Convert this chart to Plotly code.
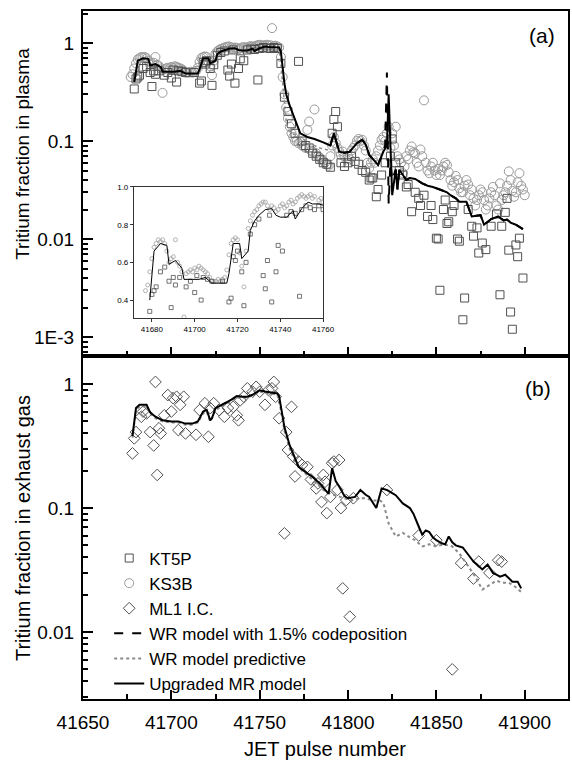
import plotly.graph_objects as go

# ---------------- DATA ----------------
# Panel (a): KS3B (circles)
ks3b_x = [41677, 41678, 41679, 41680, 41681, 41682, 41683, 41684, 41685, 41686,
          41687, 41688, 41689, 41690, 41691, 41692, 41693, 41694, 41695, 41696,
          41697, 41698, 41699, 41700, 41701, 41702, 41703, 41704, 41705, 41706,
          41707, 41708, 41709, 41710, 41711, 41712, 41713, 41714, 41715, 41716,
          41717, 41718, 41719, 41720, 41721, 41722, 41723, 41724, 41725, 41726,
          41727, 41728, 41729, 41730, 41731, 41732, 41733, 41734, 41735, 41736,
          41737, 41738, 41739, 41740, 41741, 41742, 41743, 41744, 41745, 41746,
          41747, 41748, 41749, 41750, 41751, 41752, 41753, 41754, 41755, 41756,
          41757, 41758, 41759, 41760, 41761, 41762,
          41763, 41764, 41765, 41766, 41767, 41768, 41769, 41770, 41771, 41772,
          41773, 41774, 41775, 41776, 41777, 41778, 41779, 41780, 41781, 41782,
          41783, 41784, 41785, 41786, 41787, 41788, 41789, 41790, 41791, 41792,
          41793, 41794, 41795, 41796, 41797, 41798, 41799, 41800, 41801, 41802,
          41803, 41804, 41805, 41806, 41807, 41808, 41809, 41810, 41811, 41812,
          41813, 41814, 41815, 41816, 41817, 41818, 41819, 41820, 41821, 41822,
          41823, 41824, 41825, 41826, 41827, 41828, 41829, 41830, 41831, 41832,
          41833, 41834, 41835, 41836, 41837, 41838, 41839, 41840, 41841, 41842,
          41843, 41844, 41845, 41846, 41847, 41848, 41849, 41850, 41851, 41852,
          41853, 41854, 41855, 41856, 41857, 41858, 41859, 41860, 41861, 41862,
          41863, 41864, 41865, 41866, 41867, 41868, 41869, 41870, 41871, 41872,
          41873, 41874, 41875, 41876, 41877, 41878, 41879, 41880, 41881, 41882,
          41883, 41884, 41885, 41886, 41887, 41888, 41889, 41890, 41891, 41892,
          41893, 41894, 41895, 41896, 41897, 41898, 41899, 41900]
ks3b_y = [0.45, 0.48, 0.55, 0.62, 0.68, 0.70, 0.72, 0.71, 0.72, 0.70,
          0.66, 0.60, 0.62, 0.63, 0.72, 0.60, 0.58, 0.55, 0.31, 0.54,
          0.55, 0.56, 0.55, 0.57, 0.56, 0.58, 0.57, 0.56, 0.55, 0.54,
          0.52, 0.50, 0.50, 0.50, 0.51, 0.50, 0.51, 0.52, 0.56, 0.64,
          0.70, 0.72, 0.73, 0.72, 0.65, 0.58, 0.47, 0.66, 0.78, 0.82,
          0.85, 0.87, 0.88, 0.90, 0.91, 0.92, 0.92, 0.90, 0.88, 0.90,
          0.89, 0.87, 0.88, 0.90, 0.91, 0.89, 0.90, 0.92, 0.93, 0.91,
          0.92, 0.94, 0.95, 0.96, 0.95, 0.94, 0.95, 0.96, 0.94, 0.95,
          1.42, 0.93, 0.94, 0.92, 0.90, 0.72,
          0.45, 0.30, 0.22, 0.17, 0.14, 0.12, 0.11, 0.10, 0.10, 0.095,
          0.098, 0.09, 0.088, 0.085, 0.13, 0.158, 0.08, 0.078, 0.21, 0.075,
          0.07, 0.068, 0.065, 0.063, 0.06, 0.058, 0.056, 0.07, 0.09, 0.11,
          0.095, 0.085, 0.078, 0.072, 0.078, 0.07, 0.065, 0.07, 0.065, 0.08,
          0.085, 0.09, 0.10, 0.105, 0.10, 0.103, 0.09, 0.08, 0.06, 0.053,
          0.06, 0.065, 0.06, 0.07, 0.08, 0.09, 0.103, 0.11, 0.10, 0.12,
          0.14, 0.085, 0.12, 0.09, 0.14, 0.07, 0.065, 0.06, 0.047, 0.055,
          0.07, 0.065, 0.08, 0.088, 0.077, 0.075, 0.06, 0.055, 0.082, 0.07,
          0.26, 0.06, 0.05, 0.047, 0.055, 0.06, 0.05, 0.045, 0.052, 0.045,
          0.05, 0.055, 0.06, 0.057, 0.048, 0.04, 0.035, 0.038, 0.044, 0.04,
          0.033, 0.03, 0.03, 0.035, 0.04, 0.036, 0.028, 0.032, 0.026, 0.022,
          0.025, 0.028, 0.032, 0.03, 0.025, 0.02, 0.022, 0.026, 0.03, 0.034,
          0.028, 0.022, 0.02, 0.037, 0.025, 0.028, 0.03, 0.035, 0.049, 0.04,
          0.031, 0.027, 0.03, 0.038, 0.047, 0.035, 0.032, 0.028]

# Panel (a): KT5P (squares)
kt5p_x = [41679, 41680, 41681, 41682, 41684, 41686, 41688, 41689, 41690, 41691,
          41693, 41696, 41698, 41700, 41701, 41703, 41704, 41706, 41708, 41713,
          41716, 41717, 41718, 41719, 41720, 41722, 41723, 41724, 41726, 41728,
          41730, 41732, 41733, 41734, 41735, 41736, 41738, 41739, 41741, 41743,
          41745, 41747, 41749, 41750, 41752, 41754, 41756, 41758, 41760, 41762,
          41764, 41766, 41768, 41770, 41772, 41774, 41776, 41778, 41780, 41782,
          41784, 41786, 41788, 41790, 41791, 41792, 41793, 41794, 41796, 41798,
          41800, 41802, 41804, 41806, 41808, 41810, 41812, 41813, 41814, 41816,
          41817, 41819, 41821, 41824, 41825, 41827, 41829, 41831, 41833, 41834,
          41836, 41838, 41840, 41841, 41843, 41845, 41847, 41848, 41850, 41851,
          41852, 41854, 41855, 41856, 41857, 41859, 41860, 41862, 41863, 41865,
          41866, 41868, 41870, 41871, 41873, 41874, 41876, 41878, 41881, 41884,
          41886, 41887, 41889, 41890, 41891, 41892, 41893, 41895, 41896, 41897,
          41899]
kt5p_y = [0.34, 0.43, 0.45, 0.47, 0.55, 0.575, 0.50, 0.36, 0.52, 0.48,
          0.52, 0.47, 0.50, 0.44, 0.53, 0.40, 0.52, 0.51, 0.50, 0.50,
          0.39, 0.41, 0.63, 0.61, 0.66, 0.55, 0.37, 0.60, 0.75, 0.80,
          0.83, 0.53, 0.46, 0.61, 0.85, 0.39, 0.55, 0.69, 0.66, 0.85,
          0.87, 0.86, 0.42, 0.88, 0.90, 0.89, 0.88, 0.90, 0.88, 0.62,
          0.28, 0.20, 0.15, 0.12, 0.65, 0.10, 0.09, 0.085, 0.075, 0.07,
          0.065, 0.06, 0.058, 0.054, 0.12, 0.166, 0.20, 0.14, 0.06, 0.055,
          0.06, 0.07, 0.062, 0.058, 0.05, 0.048, 0.04, 0.042, 0.042, 0.027,
          0.032, 0.045, 0.06, 0.07, 0.105, 0.06, 0.05, 0.045, 0.034, 0.036,
          0.019, 0.03, 0.026, 0.022, 0.028, 0.017, 0.022, 0.0158, 0.0102, 0.01,
          0.003, 0.02, 0.025, 0.0144, 0.015, 0.019, 0.022, 0.01, 0.0095, 0.0015,
          0.0025, 0.02, 0.0135, 0.0107, 0.013, 0.0072, 0.0091, 0.0078, 0.0135, 0.018,
          0.0027, 0.0135, 0.0187, 0.026, 0.0077, 0.0018, 0.0012, 0.0087, 0.0066, 0.0102,
          0.004]

# Panel (a): Upgraded MR model
mr_a_x = [41679, 41681, 41684, 41687, 41688, 41691, 41694, 41695, 41699, 41702,
          41705, 41708, 41712, 41715, 41716, 41718, 41721, 41722, 41725, 41726,
          41728, 41730, 41733, 41736, 41738, 41740, 41743, 41746, 41747, 41750,
          41753, 41755, 41758, 41761, 41762, 41763, 41764, 41765, 41767, 41770,
          41773, 41777, 41781, 41786, 41790, 41792, 41795, 41798, 41801, 41805,
          41808, 41810, 41812, 41817, 41820, 41822, 41823, 41825, 41827, 41828,
          41829, 41833, 41835, 41838, 41842, 41845, 41848, 41852, 41856, 41858,
          41861, 41863, 41867, 41870, 41875, 41877, 41881, 41885, 41888, 41890,
          41892, 41895, 41899]
mr_a_y = [0.40, 0.66, 0.70, 0.69, 0.59, 0.61, 0.57, 0.51, 0.51, 0.51,
          0.52, 0.49, 0.49, 0.49, 0.54, 0.70, 0.70, 0.62, 0.66, 0.77,
          0.82, 0.85, 0.88, 0.885, 0.85, 0.84, 0.84, 0.875, 0.83, 0.885,
          0.92, 0.91, 0.91, 0.90, 0.81, 0.55, 0.39, 0.30, 0.23, 0.165,
          0.12, 0.11, 0.105, 0.097, 0.09, 0.12, 0.078, 0.076, 0.078, 0.095,
          0.103, 0.092, 0.072, 0.057, 0.078, 0.09, 0.30, 0.028, 0.051, 0.032,
          0.051, 0.04, 0.042, 0.041, 0.037, 0.035, 0.034, 0.032, 0.03, 0.028,
          0.026, 0.024, 0.024, 0.017, 0.0175, 0.014, 0.016, 0.017, 0.0155, 0.0158,
          0.0147, 0.014, 0.0126]

# Panel (a): WR model with 1.5% codeposition
wr15_a_x = [41790, 41792, 41795, 41798, 41801, 41805, 41808, 41810, 41812, 41817,
            41820, 41821, 41822, 41823, 41824, 41825, 41827, 41828, 41829, 41833,
            41835, 41838, 41842, 41845, 41848, 41852, 41856, 41858, 41861, 41863,
            41867, 41870, 41875, 41877, 41881, 41885, 41888, 41890, 41892, 41895,
            41899]
wr15_a_y = [0.09, 0.12, 0.078, 0.076, 0.078, 0.095, 0.103, 0.092, 0.072, 0.057,
            0.078, 0.09, 0.50, 0.023, 0.06, 0.04, 0.051, 0.032, 0.051, 0.04,
            0.042, 0.041, 0.037, 0.035, 0.034, 0.032, 0.03, 0.028, 0.026, 0.024,
            0.024, 0.017, 0.0175, 0.014, 0.016, 0.017, 0.0155, 0.0158, 0.0147, 0.014,
            0.0126]

# Panel (a): WR model predictive
wrp_a_x = [41679, 41681, 41684, 41687, 41688, 41691, 41694, 41695, 41702, 41705,
           41708, 41715, 41716, 41718, 41721, 41722, 41725, 41726, 41730, 41733,
           41736, 41738, 41743, 41746, 41750, 41753, 41758, 41761, 41762, 41763,
           41764, 41765, 41766, 41768, 41773, 41778, 41784, 41790]
wrp_a_y = [0.40, 0.64, 0.68, 0.67, 0.58, 0.60, 0.56, 0.50, 0.50, 0.51,
           0.48, 0.48, 0.53, 0.68, 0.69, 0.61, 0.65, 0.75, 0.84, 0.87,
           0.87, 0.84, 0.83, 0.86, 0.87, 0.90, 0.89, 0.88, 0.60, 0.37,
           0.22, 0.16, 0.13, 0.12, 0.11, 0.095, 0.085, 0.08]

# Panel (b): ML1 I.C. (diamonds)
ml1_x = [41678, 41679, 41680, 41683, 41684, 41686, 41688, 41690, 41691, 41692,
         41693, 41694, 41696, 41698, 41700, 41701, 41703, 41704, 41705, 41707,
         41708, 41714, 41716, 41719, 41721, 41722, 41724, 41727, 41730, 41732,
         41735, 41737, 41738, 41739, 41741, 41743, 41746, 41748, 41750, 41753,
         41755, 41757, 41758, 41759, 41761, 41764, 41765, 41766, 41768, 41769,
         41770, 41772, 41774, 41777, 41779, 41782, 41783, 41785, 41786, 41787,
         41788, 41790, 41791, 41792, 41794, 41795, 41796, 41797, 41799, 41801,
         41803, 41822, 41840, 41850, 41859, 41864, 41871, 41874, 41880, 41885,
         41887]
ml1_y = [0.276, 0.365, 0.41, 0.545, 0.60, 0.58, 0.41, 0.32, 1.04, 0.185,
         0.44, 0.40, 0.56, 0.815, 0.60, 0.77, 0.79, 0.425, 0.68, 0.79,
         0.40, 0.39, 0.617, 0.70, 0.376, 0.64, 0.70, 0.617, 0.545, 0.64,
         0.655, 0.56, 0.51, 0.74, 0.79, 0.923, 0.867, 0.95, 0.867, 0.68,
         0.895, 0.923, 1.04, 0.79, 0.53, 0.0625, 0.41, 0.294, 0.655, 0.26,
         0.18, 0.237, 0.223, 0.215, 0.17, 0.144, 0.158, 0.112, 0.185, 0.163,
         0.091, 0.123, 0.23, 0.237, 0.14, 0.244, 0.10, 0.0225, 0.116, 0.0133,
         0.12, 0.14, 0.06, 0.055, 0.005, 0.036, 0.027, 0.037, 0.03, 0.038,
         0.037]

# Panel (b): Upgraded MR model
mr_b_x = [41678, 41679, 41680, 41682, 41686, 41688, 41691, 41695, 41700, 41704,
          41708, 41712, 41715, 41718, 41720, 41722, 41723, 41725, 41728, 41731,
          41734, 41737, 41740, 41743, 41746, 41750, 41753, 41756, 41760, 41761,
          41762, 41764, 41767, 41769, 41772, 41776, 41780, 41784, 41788, 41789,
          41791, 41793, 41795, 41798, 41800, 41804, 41807, 41810, 41812, 41814,
          41816, 41819, 41822, 41825, 41827, 41831, 41833, 41835, 41837, 41838,
          41840, 41842, 41844, 41846, 41848, 41850, 41853, 41855, 41857, 41859,
          41861, 41863, 41865, 41867, 41869, 41871, 41873, 41876, 41879, 41882,
          41884, 41886, 41889, 41891, 41893, 41896, 41898]
mr_b_y = [0.38, 0.52, 0.64, 0.68, 0.68, 0.59, 0.545, 0.51, 0.50, 0.50,
          0.48, 0.48, 0.50, 0.60, 0.62, 0.51, 0.53, 0.64, 0.67, 0.71,
          0.75, 0.80, 0.79, 0.79, 0.82, 0.89, 0.87, 0.86, 0.84, 0.80,
          0.66, 0.45, 0.32, 0.275, 0.215, 0.195, 0.178, 0.158, 0.135, 0.13,
          0.21, 0.165, 0.149, 0.125, 0.12, 0.123, 0.14, 0.128, 0.123, 0.112,
          0.10, 0.144, 0.14, 0.132, 0.127, 0.109, 0.104, 0.10, 0.09, 0.084,
          0.071, 0.061, 0.066, 0.064, 0.058, 0.055, 0.052, 0.051, 0.059, 0.053,
          0.050, 0.049, 0.048, 0.044, 0.040, 0.037, 0.035, 0.032, 0.035, 0.030,
          0.029, 0.028, 0.029, 0.027, 0.0255, 0.0255, 0.0225]

# Panel (b): WR model predictive
wrp_b_x = [41678, 41680, 41682, 41686, 41688, 41691, 41695, 41700, 41704, 41708,
           41712, 41715, 41718, 41720, 41722, 41725, 41728, 41731, 41734, 41737,
           41740, 41743, 41746, 41750, 41753, 41756, 41760, 41762, 41764, 41767,
           41770, 41774, 41778, 41782, 41786, 41790, 41794, 41798, 41802, 41806,
           41810, 41814, 41818, 41820, 41823, 41827, 41831, 41835, 41838, 41842,
           41846, 41850, 41854, 41859, 41863, 41868, 41872, 41876, 41880, 41884,
           41887, 41891, 41895, 41898]
wrp_b_y = [0.37, 0.62, 0.66, 0.66, 0.58, 0.53, 0.50, 0.49, 0.49, 0.47,
           0.47, 0.49, 0.58, 0.60, 0.50, 0.62, 0.65, 0.69, 0.73, 0.78,
           0.77, 0.78, 0.81, 0.87, 0.85, 0.84, 0.82, 0.62, 0.42, 0.30,
           0.24, 0.20, 0.18, 0.16, 0.14, 0.13, 0.125, 0.12, 0.115, 0.12,
           0.12, 0.115, 0.115, 0.11, 0.075, 0.059, 0.063, 0.058, 0.055, 0.049,
           0.051, 0.049, 0.051, 0.049, 0.043, 0.034, 0.028, 0.022, 0.024, 0.026,
           0.025, 0.025, 0.023, 0.021]

x_ticks = [41650, 41700, 41750, 41800, 41850, 41900]
x_ticktext = ["41650", "41700", "41750", "41800", "41850", "41900"]
ya_ticks = [0.001, 0.01, 0.1, 1]
ya_text = ["1E-3", "0.01", "0.1", "1"]
yb_ticks = [0.01, 0.1, 1]
yb_text = ["0.01", "0.1", "1"]
inset_x_ticks = [41680, 41700, 41720, 41740, 41760]
inset_x_text = ["41680", "41700", "41720", "41740", "41760"]
inset_y_ticks = [0.4, 0.6, 0.8, 1.0]
inset_y_text = ["0.4", "0.6", "0.8", "1.0"]

# ---------------- STYLE ----------------
FONT = "Liberation Sans, Arial, Helvetica, sans-serif"
C_SQ = "#505050"
C_CI = "#9a9a9a"
C_DI = "#505050"
C_PRED = "#8a8a8a"

minor_a = [k * 10.0 ** e for e in range(-4, 1) for k in range(2, 10)]

fig = go.Figure()

# Top panel (x2, y2): markers first, then model lines
fig.add_trace(go.Scatter(x=ks3b_x, y=ks3b_y, mode="markers", name="KS3B",
                         marker=dict(symbol="circle-open", size=9, color=C_CI, line=dict(width=1)),
                         xaxis="x2", yaxis="y2", legendrank=2))
fig.add_trace(go.Scatter(x=kt5p_x, y=kt5p_y, mode="markers", name="KT5P",
                         marker=dict(symbol="square-open", size=8, color=C_SQ, line=dict(width=1)),
                         xaxis="x2", yaxis="y2", legendrank=1))
fig.add_trace(go.Scatter(x=wrp_a_x, y=wrp_a_y, mode="lines", showlegend=False,
                         line=dict(color=C_PRED, width=1.5, dash="dot"),
                         xaxis="x2", yaxis="y2"))
fig.add_trace(go.Scatter(x=wr15_a_x, y=wr15_a_y, mode="lines",
                         name="WR model with 1.5% codeposition",
                         line=dict(color="black", width=2, dash="dash"),
                         xaxis="x2", yaxis="y2", legendrank=4))
fig.add_trace(go.Scatter(x=mr_a_x, y=mr_a_y, mode="lines", showlegend=False,
                         line=dict(color="black", width=2),
                         xaxis="x2", yaxis="y2"))

# Bottom panel (x, y)
fig.add_trace(go.Scatter(x=ml1_x, y=ml1_y, mode="markers", name="ML1 I.C.",
                         marker=dict(symbol="diamond-open", size=9, color=C_DI, line=dict(width=1)),
                         xaxis="x", yaxis="y", legendrank=3))
fig.add_trace(go.Scatter(x=wrp_b_x, y=wrp_b_y, mode="lines", name="WR model predictive",
                         line=dict(color=C_PRED, width=2, dash="dot"),
                         xaxis="x", yaxis="y", legendrank=5))
fig.add_trace(go.Scatter(x=mr_b_x, y=mr_b_y, mode="lines", name="Upgraded MR model",
                         line=dict(color="black", width=2),
                         xaxis="x", yaxis="y", legendrank=6))

# Inset (x3, y3)
fig.add_trace(go.Scatter(x=ks3b_x, y=ks3b_y, mode="markers", showlegend=False,
                         marker=dict(symbol="circle-open", size=4, color="#a0a0a0", line=dict(width=0.8)),
                         xaxis="x3", yaxis="y3"))
fig.add_trace(go.Scatter(x=kt5p_x, y=kt5p_y, mode="markers", showlegend=False,
                         marker=dict(symbol="square-open", size=4, color=C_SQ, line=dict(width=0.8)),
                         xaxis="x3", yaxis="y3"))
fig.add_trace(go.Scatter(x=mr_a_x, y=mr_a_y, mode="lines", showlegend=False,
                         line=dict(color="black", width=1),
                         xaxis="x3", yaxis="y3"))

common_x = dict(range=[41650, 41924.5], tickmode="array", tickvals=x_ticks, ticktext=x_ticktext,
                ticks="inside", ticklen=9, tickwidth=2, tickcolor="black",
                minor=dict(dtick=25, tick0=41650, ticks="inside", ticklen=5, tickwidth=1.5,
                           tickcolor="black", showgrid=False),
                showline=True, linewidth=2, linecolor="black", mirror=True,
                showgrid=False, zeroline=False, automargin=False,
                tickfont=dict(family=FONT, size=19, color="black"))

fig.update_layout(
    width=572, height=763, autosize=False,
    margin=dict(l=83, r=4, t=11, b=64, autoexpand=False),
    paper_bgcolor="white", plot_bgcolor="white",
    font=dict(family=FONT, color="black"),
    xaxis=dict(**common_x, anchor="y", domain=[0, 1], ticklabelstandoff=5),
    xaxis2=dict(**common_x, anchor="y2", domain=[0, 1], showticklabels=False, matches="x"),
    yaxis=dict(type="log", range=[-2.54, 0.226], domain=[0, 0.4985], anchor="x",
               tickmode="array", tickvals=yb_ticks, ticktext=yb_text,
               ticks="inside", ticklen=10, tickwidth=2, tickcolor="black",
               minor=dict(tickmode="array", tickvals=minor_a, ticks="inside", ticklen=5,
                          tickwidth=1.5, tickcolor="black", showgrid=False),
               showline=True, linewidth=2, linecolor="black", mirror=True,
               showgrid=False, zeroline=False, ticklabelstandoff=3, automargin=False,
               tickfont=dict(family=FONT, size=19, color="black")),
    yaxis2=dict(type="log", range=[-3.194, 0.327], domain=[0.4985, 1], anchor="x2",
                tickmode="array", tickvals=ya_ticks, ticktext=ya_text,
                ticks="inside", ticklen=10, tickwidth=2, tickcolor="black",
                minor=dict(tickmode="array", tickvals=minor_a, ticks="inside", ticklen=5,
                           tickwidth=1.5, tickcolor="black", showgrid=False),
                showline=True, linewidth=2, linecolor="black", mirror=True,
                showgrid=False, zeroline=False, ticklabelstandoff=3, automargin=False,
                tickfont=dict(family=FONT, size=19, color="black")),
    xaxis3=dict(range=[41671.6, 41760], domain=[0.105, 0.495], anchor="y3",
                tickmode="array", tickvals=inset_x_ticks, ticktext=inset_x_text,
                ticks="outside", ticklen=3, tickwidth=1, tickcolor="#333",
                showline=True, linewidth=1, linecolor="#333", mirror=True,
                showgrid=False, zeroline=False, automargin=False,
                tickfont=dict(family=FONT, size=8, color="black")),
    yaxis3=dict(range=[0.305, 1.0], domain=[0.5538, 0.7442], anchor="x3",
                tickmode="array", tickvals=inset_y_ticks, ticktext=inset_y_text,
                ticks="outside", ticklen=3, tickwidth=1, tickcolor="#333",
                showline=True, linewidth=1, linecolor="#333", mirror=True,
                showgrid=False, zeroline=False, automargin=False,
                tickfont=dict(family=FONT, size=8, color="black")),
    legend=dict(x=0.054, y=0.2304, xanchor="left", yanchor="top",
                bgcolor="rgba(0,0,0,0)", borderwidth=0,
                font=dict(family=FONT, size=17, color="black"),
                tracegroupgap=0, itemsizing="trace"),
    showlegend=True,
)

ann = [
    dict(text="Tritium fraction in plasma", x=-0.125, y=0.793, textangle=-90, size=19),
    dict(text="Tritium fraction in exhaust gas", x=-0.125, y=0.249, textangle=-90, size=20),
    dict(text="JET pulse number", x=0.499, y=-0.073, textangle=0, size=20),
    dict(text="(a)", x=0.946, y=0.965, textangle=0, size=21),
    dict(text="(b)", x=0.938, y=0.452, textangle=0, size=21),
]
for a in ann:
    fig.add_annotation(text=a["text"], x=a["x"], y=a["y"], xref="paper", yref="paper",
                       xanchor="center", yanchor="middle", showarrow=False,
                       textangle=a["textangle"],
                       font=dict(family=FONT, size=a["size"], color="black"))

post = ("document.documentElement.style.margin='0';document.documentElement.style.overflow='hidden';"
        "document.body.style.margin='0';document.body.style.padding='0';document.body.style.overflow='hidden';"
        "var gd=document.getElementById('{plot_id}');"
        "Plotly.relayout(gd,{width:572,height:763});")

fig.write_html("out.html", config={"responsive": False, "displayModeBar": False}, post_script=post)
